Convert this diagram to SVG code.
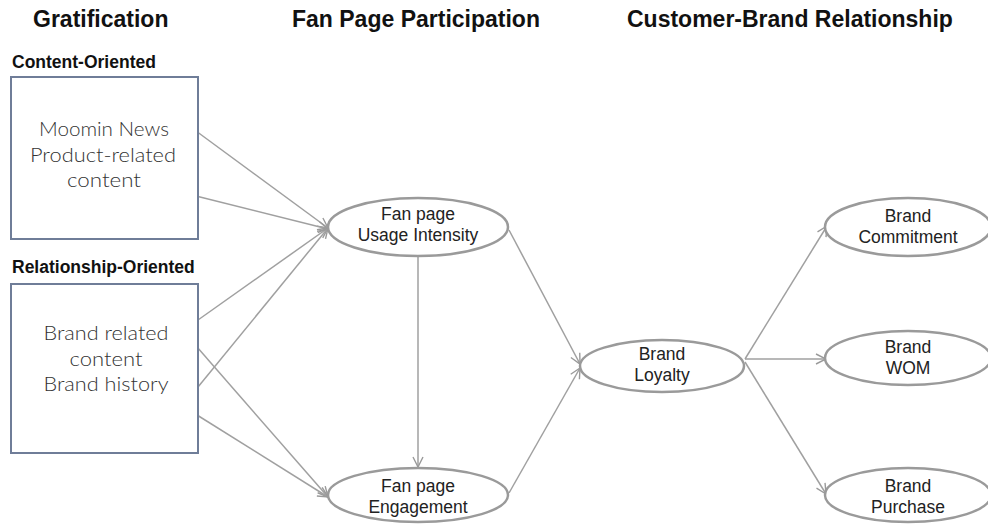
<svg xmlns="http://www.w3.org/2000/svg" width="988" height="525" viewBox="0 0 988 525">
  <defs>
    <marker id="arrow" viewBox="0 0 12 12" refX="11" refY="6" markerWidth="12" markerHeight="12" markerUnits="userSpaceOnUse" orient="auto">
      <path d="M1,1 L11,6 L1,11" fill="none" stroke="#9a9a9a" stroke-width="1.4"/>
    </marker>
  </defs>
  <style>
    .head { font-family: "Liberation Sans", Arial, sans-serif; font-weight: bold; fill: #111; }
    .h1 { font-size: 23px; }
    .h2 { font-size: 17.5px; }
    .box { fill: #fff; stroke: #6f7d98; stroke-width: 2; }
    .boxtxt { font-family: Lato, "Open Sans", sans-serif; font-weight: 300; font-size: 19.5px; fill: #333; text-anchor: middle; }
    .node { fill: #fff; stroke: #9a9a9a; stroke-width: 2.5; }
    .ntxt { font-family: "Liberation Sans", Arial, sans-serif; font-size: 17.5px; fill: #222; text-anchor: middle; }
    .edge { fill: none; stroke: #a0a0a0; stroke-width: 1.5; marker-end: url(#arrow); }
  </style>
  <rect width="988" height="525" fill="#fff"/>

  <!-- column headings -->
  <g id="headings">
    <text class="head h1" x="33" y="27">Gratification</text>
    <text class="head h1" x="292" y="27">Fan Page Participation</text>
    <text class="head h1" x="627" y="27">Customer-Brand Relationship</text>
    <text class="head h2" x="12" y="68">Content-Oriented</text>
    <text class="head h2" x="12" y="273">Relationship-Oriented</text>
  </g>

  <!-- connectors -->
  <g id="connectors">
    <line class="edge" x1="196" y1="131" x2="328" y2="228"/>
    <line class="edge" x1="196" y1="196" x2="328" y2="229"/>
    <line class="edge" x1="198" y1="320" x2="328" y2="228"/>
    <line class="edge" x1="198" y1="387" x2="328" y2="228"/>
    <line class="edge" x1="197" y1="347" x2="328" y2="497"/>
    <line class="edge" x1="197" y1="415" x2="328" y2="497"/>
    <line class="edge" x1="418" y1="257" x2="418" y2="467"/>
    <line class="edge" x1="509" y1="230" x2="580" y2="364"/>
    <line class="edge" x1="509" y1="493" x2="580" y2="368"/>
    <line class="edge" x1="745" y1="359" x2="827" y2="226"/>
    <line class="edge" x1="745" y1="359" x2="826" y2="359"/>
    <line class="edge" x1="745" y1="362" x2="826" y2="494"/>
  </g>

  <!-- gratification boxes -->
  <g id="content-oriented">
    <rect class="box" x="11" y="77" width="187" height="162"/>
    <text class="boxtxt" x="104" y="136" textLength="130" lengthAdjust="spacingAndGlyphs">Moomin News</text>
    <text class="boxtxt" x="103" y="162" textLength="146" lengthAdjust="spacingAndGlyphs">Product-related</text>
    <text class="boxtxt" x="104" y="187" textLength="74" lengthAdjust="spacingAndGlyphs">content</text>
  </g>
  <g id="relationship-oriented">
    <rect class="box" x="11" y="284" width="187" height="169"/>
    <text class="boxtxt" x="106" y="340" textLength="125" lengthAdjust="spacingAndGlyphs">Brand related</text>
    <text class="boxtxt" x="106" y="366" textLength="73" lengthAdjust="spacingAndGlyphs">content</text>
    <text class="boxtxt" x="106" y="391" textLength="125" lengthAdjust="spacingAndGlyphs">Brand history</text>
  </g>

  <!-- fan page participation -->
  <g id="usage-intensity">
    <ellipse class="node" cx="418" cy="227" rx="90" ry="29"/>
    <text class="ntxt" x="418" y="220">Fan page</text>
    <text class="ntxt" x="418" y="241">Usage Intensity</text>
  </g>
  <g id="engagement">
    <ellipse class="node" cx="418" cy="495" rx="90" ry="27"/>
    <text class="ntxt" x="418" y="492">Fan page</text>
    <text class="ntxt" x="418" y="513">Engagement</text>
  </g>

  <!-- customer-brand relationship -->
  <g id="brand-loyalty">
    <ellipse class="node" cx="662" cy="366" rx="82" ry="26"/>
    <text class="ntxt" x="662" y="360">Brand</text>
    <text class="ntxt" x="662" y="381">Loyalty</text>
  </g>
  <g id="brand-commitment">
    <ellipse class="node" cx="908" cy="227" rx="83" ry="29"/>
    <text class="ntxt" x="908" y="222">Brand</text>
    <text class="ntxt" x="908" y="243">Commitment</text>
  </g>
  <g id="brand-wom">
    <ellipse class="node" cx="908" cy="358" rx="83" ry="27"/>
    <text class="ntxt" x="908" y="353">Brand</text>
    <text class="ntxt" x="908" y="374">WOM</text>
  </g>
  <g id="brand-purchase">
    <ellipse class="node" cx="908" cy="495" rx="83" ry="27"/>
    <text class="ntxt" x="908" y="492">Brand</text>
    <text class="ntxt" x="908" y="513">Purchase</text>
  </g>
</svg>
